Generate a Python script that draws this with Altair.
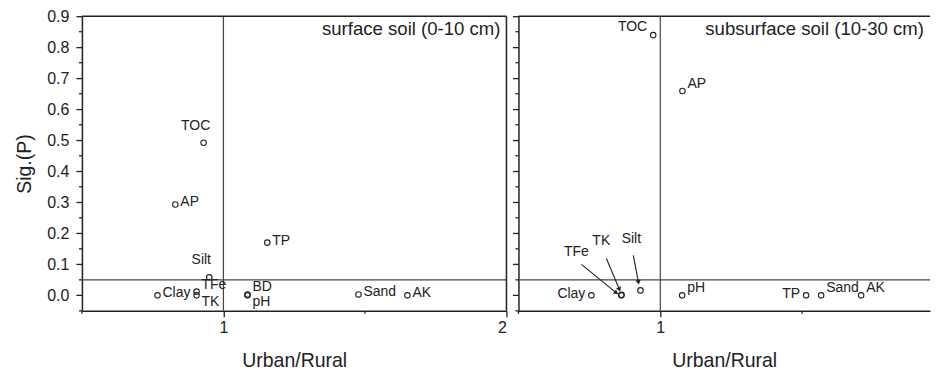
import altair as alt
import pandas as pd

# ---------------- data ----------------
# surface soil (0-10 cm)
s_names = ["TOC", "AP", "Silt", "Clay", "TFe", "TK", "BD", "pH", "TP", "Sand", "AK"]
s_x = [0.93, 0.83, 0.95, 0.767, 0.905, 0.905, 1.085, 1.085, 1.155, 1.477, 1.65]
s_y = [0.492, 0.293, 0.058, 0.0, 0.012, 0.0, 0.003, 0.0, 0.17, 0.003, 0.0]
s_pos = ["above", "right", "above", "right", "ur", "lr", "ur", "lr", "right", "right", "right"]

# subsurface soil (10-30 cm)
b_names = ["TOC", "AP", "Clay", "TFe", "TK", "Silt", "pH", "TP", "Sand", "AK"]
b_x = [0.975, 1.078, 0.757, 0.863, 0.863, 0.93, 1.077, 1.514, 1.567, 1.708]
b_y = [0.839, 0.659, 0.0, 0.0, 0.002, 0.016, 0.0, 0.0, 0.0, 0.0]
b_pos = ["ul", "ur", "left", "none", "none", "none", "ur", "left", "ur", "ur"]

# arrow-labelled points (subsurface)
arr_names = ["TFe", "TK", "Silt"]
arr_lx = [0.704, 0.792, 0.898]
arr_ly = [0.141, 0.174, 0.183]
arr_x1 = [0.722, 0.810, 0.905]
arr_y1 = [0.100, 0.119, 0.129]
arr_x2 = [0.845, 0.856, 0.923]
arr_y2 = [0.008, 0.019, 0.042]
arr_ang = [127, 157, 169]

y_major = [0.0, 0.1, 0.2, 0.3, 0.4, 0.5, 0.6, 0.7, 0.8, 0.9]
y_minor = [-0.05, 0.05, 0.15, 0.25, 0.35, 0.45, 0.55, 0.65, 0.75, 0.85]
x_minor = [0.5, 1.5]
ref_x = [1.0]
ref_y = [0.05]

titles = ["surface soil (0-10 cm)", "subsurface soil (10-30 cm)"]

FONT = "Liberation Sans"
INK = "#222222"
H = 295
LABEL_FS = 14

def panel(names, xs, ys, pos, W, xdomain, xvals, title, ylabels, xtitle):
    df = pd.DataFrame({"name": names, "x": xs, "y": ys, "pos": pos})
    xs_ = alt.Scale(domain=xdomain, nice=False, zero=False)
    ys_ = alt.Scale(domain=[-0.05, 0.9], nice=False, zero=False)

    yaxis = alt.Axis(values=y_major, format=".1f", labels=ylabels, labelOverlap=False,
                     title="Sig.(P)" if ylabels else "", tickSize=6,
                     labelPadding=7, titlePadding=12)
    xaxis = alt.Axis(values=xvals, format="d", title=xtitle, tickSize=6, labelOverlap=False,
                     labelPadding=3, titlePadding=16)

    base = alt.Chart(df)
    pts = base.mark_point(shape="circle", filled=False, size=30, strokeWidth=1.1,
                          color=INK, opacity=1).encode(
        x=alt.X("x:Q", scale=xs_, axis=xaxis),
        y=alt.Y("y:Q", scale=ys_, axis=yaxis),
    )

    def lab(p, align, dx, dy):
        return base.transform_filter(alt.datum.pos == p).mark_text(
            align=align, baseline="middle", dx=dx, dy=dy, font=FONT, fontSize=LABEL_FS,
            color=INK).encode(
            x=alt.X("x:Q", scale=xs_, axis=None),
            y=alt.Y("y:Q", scale=ys_, axis=None),
            text="name:N")

    labels = [lab("right", "left", 5, -2), lab("left", "right", -6, -1),
              lab("above", "center", -8, -17), lab("ur", "left", 5, -7),
              lab("lr", "left", 5, 7), lab("ul", "right", -6, -8)]

    vline = alt.Chart(pd.DataFrame({"x": ref_x})).mark_rule(color="#444444", strokeWidth=1.2).encode(
        x=alt.X("x:Q", scale=xs_, axis=None), y=alt.value(0), y2=alt.value(H))
    hline = alt.Chart(pd.DataFrame({"y": ref_y})).mark_rule(color="#444444", strokeWidth=1.2).encode(
        y=alt.Y("y:Q", scale=ys_, axis=None), x=alt.value(0), x2=alt.value(W))
    yminor = alt.Chart(pd.DataFrame({"y": y_minor})).mark_rule(color=INK, strokeWidth=1.3).encode(
        y=alt.Y("y:Q", scale=ys_, axis=None), x=alt.value(-3), x2=alt.value(0))
    xminor = alt.Chart(pd.DataFrame({"x": x_minor})).mark_rule(color=INK, strokeWidth=1.3).encode(
        x=alt.X("x:Q", scale=xs_, axis=None), y=alt.value(H), y2=alt.value(H + 3))
    top = alt.Chart(pd.DataFrame({"v": [0]})).mark_rule(color=INK, strokeWidth=1.5).encode(
        y=alt.value(0), x=alt.value(0), x2=alt.value(W))
    ttl = alt.Chart(pd.DataFrame({"t": [title]})).mark_text(
        align="right", baseline="middle", font=FONT, fontSize=18.6, color=INK).encode(
        x=alt.value(W - 6), y=alt.value(13), text="t:N")

    layers = [pts, vline, hline, yminor, xminor, top] + labels + [ttl]
    return layers, xs_, ys_


W1, W2 = 425, 412
l_layers, _, _ = panel(s_names, s_x, s_y, s_pos, W1, [0.5, 2.0], [1, 2], titles[0], True, "Urban/Rural")
rightb = alt.Chart(pd.DataFrame({"v": [0]})).mark_rule(color=INK, strokeWidth=1.5).encode(
    x=alt.value(W1), y=alt.value(0), y2=alt.value(H))
left = alt.layer(*(l_layers + [rightb])).properties(width=W1, height=H).resolve_axis(
    x="independent", y="independent")

r_layers, rxs, rys = panel(b_names, b_x, b_y, b_pos, W2, [0.5, 0.5 + W2 / 284.0], [1], titles[1], False, "Urban/Rural")
adf = pd.DataFrame({"name": arr_names, "x": arr_lx, "y": arr_ly, "x1": arr_x1, "y1": arr_y1,
                    "x2": arr_x2, "y2": arr_y2, "ang": arr_ang})
abase = alt.Chart(adf)
shafts = abase.mark_rule(color=INK, strokeWidth=1.1).encode(
    x=alt.X("x1:Q", scale=rxs, axis=None), y=alt.Y("y1:Q", scale=rys, axis=None),
    x2="x2:Q", y2="y2:Q")
heads = abase.mark_point(shape="triangle-up", filled=True, size=28, color=INK, opacity=1).encode(
    x=alt.X("x2:Q", scale=rxs, axis=None), y=alt.Y("y2:Q", scale=rys, axis=None),
    angle=alt.Angle("ang:Q", scale=None))
alabels = abase.mark_text(align="center", baseline="middle", font=FONT, fontSize=LABEL_FS, color=INK).encode(
    x=alt.X("x:Q", scale=rxs, axis=None), y=alt.Y("y:Q", scale=rys, axis=None), text="name:N")
right = alt.layer(*(r_layers + [shafts, heads, alabels])).properties(width=W2, height=H).resolve_axis(
    x="independent", y="independent")

chart = alt.hconcat(left, right, spacing=4).properties(
    padding={"left": 6, "top": 0, "right": 0, "bottom": 0}
).configure_view(stroke=None).configure_axis(
    grid=False, domainColor=INK, domainWidth=1.5, tickColor=INK, tickWidth=1.3,
    labelFont=FONT, labelFontSize=16, labelColor=INK, labelOverlap=False,
    titleFont=FONT, titleFontSize=19.5, titleFontWeight="normal", titleColor=INK,
).configure_axisY(labelOverlap=False, labelFlush=False)

chart.save("out.html", embed_options={"renderer": "svg", "actions": False})
